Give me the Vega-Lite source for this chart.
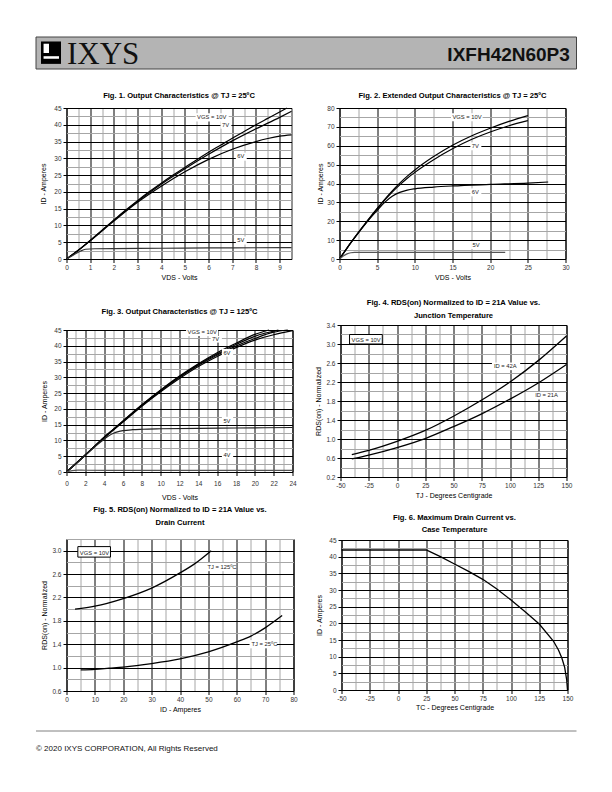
{
"$schema": "https://vega.github.io/schema/vega-lite/v6.json",
"background": "white",
"padding": {"left": 35.5, "top": 36, "right": 5, "bottom": 5},
"config": {
  "font": "Liberation Sans",
  "view": {"stroke": "#000000", "strokeWidth": 1},
  "axis": {"grid": true, "domain": false, "tickSize": 3.5, "tickWidth": 1, "labelPadding": 2, "labelFont": "Liberation Sans", "labelFontSize": 6.5, "labelColor": "#333333", "titleFont": "Liberation Sans", "titleFontSize": 7, "titleFontWeight": "normal", "titleColor": "#000000", "gridWidth": 1, "labelOverlap": false, "labelBound": false, "labelFlush": false, "titleBaseline": "middle"},
  "title": {"font": "Liberation Sans", "fontSize": 7.6, "fontWeight": "bold", "color": "#000000", "anchor": "middle", "frame": "group", "baseline": "bottom"},
  "text": {"font": "Liberation Sans"}
},
"columns": 1,
"align": "none",
"spacing": 1,
"resolve": {"scale": {"color": "independent", "stroke": "independent"}},
"concat": [
  {
    "width": 510, "height": 32,
    "view": {"stroke": null},
    "layer": [
      {"data": {"values": [
        {"p": "g", "x1": -5.98, "x2": 100, "y1": 0, "y2": 100},
        {"p": "a", "x1": -5.0, "x2": -1.08, "y1": 14, "y2": 84},
        {"p": "b", "x1": -4.5, "x2": -3.43, "y1": 21, "y2": 50},
        {"p": "b", "x1": -4.5, "x2": -1.47, "y1": 60, "y2": 68}
      ]},
       "mark": {"type": "rect"},
       "encoding": {
         "x": {"field": "x1", "type": "quantitative", "scale": {"domain": [0, 100], "nice": false, "zero": false}, "axis": null},
         "x2": {"field": "x2"},
         "y": {"field": "y1", "type": "quantitative", "scale": {"domain": [0, 100], "nice": false, "reverse": true}, "axis": null},
         "y2": {"field": "y2"},
         "color": {"field": "p", "type": "nominal", "scale": {"domain": ["g", "a", "b"], "range": ["#b4b4b4", "#000000", "#ffffff"]}, "legend": null},
         "stroke": {"field": "p", "type": "nominal", "scale": {"domain": ["g", "a", "b"], "range": ["#444444", "transparent", "transparent"]}, "legend": null}
       }},
      {"data": {"values": [{"t": "IXYS", "x": 0.1, "y": 84}]},
       "mark": {"type": "text", "font": "Liberation Serif", "fontSize": 31, "align": "left", "baseline": "alphabetic", "color": "#111111"},
       "encoding": {
         "x": {"field": "x", "type": "quantitative", "scale": {"domain": [0, 100], "nice": false, "zero": false}, "axis": null},
         "y": {"field": "y", "type": "quantitative", "scale": {"domain": [0, 100], "nice": false, "reverse": true}, "axis": null},
         "text": {"field": "t"}
       }},
      {"data": {"values": [{"t": "IXFH42N60P3", "x": 98.7, "y": 75}]},
       "mark": {"type": "text", "font": "Liberation Sans", "fontSize": 19, "fontWeight": "bold", "align": "right", "baseline": "alphabetic", "color": "#111111"},
       "encoding": {
         "x": {"field": "x", "type": "quantitative", "scale": {"domain": [0, 100], "nice": false, "zero": false}, "axis": null},
         "y": {"field": "y", "type": "quantitative", "scale": {"domain": [0, 100], "nice": false, "reverse": true}, "axis": null},
         "text": {"field": "t"}
       }}
    ]
  },
  {
    "width": 510, "height": 19, "view": {"stroke": null},
    "data": {"values": [{"a": 0, "b": 1}]},
    "mark": {"type": "rect", "opacity": 0},
    "encoding": {
      "x": {"field": "a", "type": "quantitative", "scale": {"domain": [0, 1]}, "axis": null},
      "x2": {"field": "b"},
      "y": {"field": "a", "type": "quantitative", "scale": {"domain": [0, 1]}, "axis": null},
      "y2": {"field": "b"}
    }
  },
  {
    "resolve": {"scale": {"color": "independent", "stroke": "independent"}},
    "hconcat": [
      {
        "width": 225, "height": 151,
        "title": {"text": "Fig. 1. Output Characteristics @ TJ = 25ºC", "offset": 5},
        "encoding": {
          "x": {"field": "x", "type": "quantitative", "scale": {"domain": [0, 9.5], "nice": false, "zero": false},
                "axis": {"title": "VDS - Volts", "values": [0,0.5,1,1.5,2,2.5,3,3.5,4,4.5,5,5.5,6,6.5,7,7.5,8,8.5,9,9.5],
                         "labelExpr": "datum.value % 1 === 0 ? '' + datum.value : ''",
                         "gridColor": {"condition": {"test": "datum.value % 1 === 0", "value": "#000000"}, "value": "#a6a6a6"},
                         "tickColor": {"condition": {"test": "datum.value % 1 === 0", "value": "#000000"}, "value": "transparent"},
                         "titleY": 18}},
          "y": {"field": "y", "type": "quantitative", "scale": {"domain": [0, 45], "nice": false},
                "axis": {"title": "ID - Amperes", "values": [0,2.5,5,7.5,10,12.5,15,17.5,20,22.5,25,27.5,30,32.5,35,37.5,40,42.5,45],
                         "labelExpr": "datum.value % 5 === 0 ? '' + datum.value : ''",
                         "gridColor": {"condition": {"test": "datum.value % 5 === 0", "value": "#000000"}, "value": "#a6a6a6"},
                         "tickColor": {"condition": {"test": "datum.value % 5 === 0", "value": "#000000"}, "value": "transparent"},
                         "titleX": -23.5}}
        },
        "layer": [
          {"data": {"values": [
            {"s":"10V","x":0,"y":0},{"s":"10V","x":0.5,"y":2.6},{"s":"10V","x":1,"y":5.5},{"s":"10V","x":1.5,"y":8.6},{"s":"10V","x":2,"y":11.6},{"s":"10V","x":2.5,"y":14.6},{"s":"10V","x":3,"y":17.4},{"s":"10V","x":3.5,"y":20.1},{"s":"10V","x":4,"y":22.6},{"s":"10V","x":4.5,"y":25},{"s":"10V","x":5,"y":27.3},{"s":"10V","x":5.5,"y":29.6},{"s":"10V","x":6,"y":31.8},{"s":"10V","x":6.5,"y":33.9},{"s":"10V","x":7,"y":36},{"s":"10V","x":7.5,"y":38},{"s":"10V","x":8,"y":40},{"s":"10V","x":8.5,"y":41.9},{"s":"10V","x":9,"y":43.8},{"s":"10V","x":9.3,"y":45},
            {"s":"7V","x":0,"y":0},{"s":"7V","x":0.5,"y":2.6},{"s":"7V","x":1,"y":5.5},{"s":"7V","x":2,"y":11.5},{"s":"7V","x":3,"y":17.2},{"s":"7V","x":4,"y":22.3},{"s":"7V","x":5,"y":26.9},{"s":"7V","x":6,"y":31.2},{"s":"7V","x":7,"y":35.2},{"s":"7V","x":8,"y":38.8},{"s":"7V","x":9,"y":42.2},{"s":"7V","x":9.5,"y":44},
            {"s":"6V","x":0,"y":0},{"s":"6V","x":0.5,"y":2.6},{"s":"6V","x":1,"y":5.4},{"s":"6V","x":2,"y":11.3},{"s":"6V","x":3,"y":16.9},{"s":"6V","x":4,"y":21.7},{"s":"6V","x":5,"y":26},{"s":"6V","x":6,"y":29.7},{"s":"6V","x":7,"y":32.7},{"s":"6V","x":8,"y":35},{"s":"6V","x":8.5,"y":35.9},{"s":"6V","x":9,"y":36.6},{"s":"6V","x":9.5,"y":37},
            {"s":"5V","x":0,"y":0},{"s":"5V","x":0.3,"y":1.2},{"s":"5V","x":0.6,"y":2.4},{"s":"5V","x":0.8,"y":2.9},{"s":"5V","x":1.2,"y":3.05},{"s":"5V","x":2,"y":3.1},{"s":"5V","x":4,"y":3.2},{"s":"5V","x":6,"y":3.3},{"s":"5V","x":8,"y":3.35},{"s":"5V","x":9.5,"y":3.4}
          ]},
           "mark": {"type": "line", "interpolate": "monotone", "strokeWidth": 1.2},
           "encoding": {
             "color": {"field": "s", "type": "nominal", "scale": {"domain": ["10V","8V","7V","6V","5V","4V"], "range": ["#000000","#000000","#000000","#000000","#333333","#555555"]}, "legend": null}
           }},
          {"data": {"values": [
            {"t":"VGS = 10V","x":5.45,"x2":6.85,"y":41,"y2":43.4},
            {"t":"7V","x":6.5,"x2":6.96,"y":38.8,"y2":41.2},
            {"t":"6V","x":7.15,"x2":7.61,"y":29.3,"y2":31.7},
            {"t":"5V","x":7.15,"x2":7.61,"y":4.3,"y2":6.7}
          ]},
           "layer": [
             {"mark": {"type": "rect", "fill": "#ffffff"}, "encoding": {"x2": {"field": "x2"}, "y2": {"field": "y2"}}},
             {"mark": {"type": "text", "fontSize": 5.8, "color": "#222222", "align": "left", "baseline": "bottom", "dx": 1.5, "dy": -1.2}, "encoding": {"text": {"field": "t"}}}
           ]}
        ]
      },
      {
        "width": 226, "height": 151,
        "title": {"text": "Fig. 2. Extended Output Characteristics @ TJ = 25ºC", "offset": 5.5},
        "encoding": {
          "x": {"field": "x", "type": "quantitative", "scale": {"domain": [0, 30], "nice": false, "zero": false},
                "axis": {"title": "VDS - Volts", "values": [0,2.5,5,7.5,10,12.5,15,17.5,20,22.5,25,27.5,30],
                         "labelExpr": "datum.value % 5 === 0 ? '' + datum.value : ''",
                         "gridColor": {"condition": {"test": "datum.value % 5 === 0", "value": "#000000"}, "value": "#a6a6a6"},
                         "tickColor": {"condition": {"test": "datum.value % 5 === 0", "value": "#000000"}, "value": "transparent"},
                         "titleY": 18}},
          "y": {"field": "y", "type": "quantitative", "scale": {"domain": [0, 80], "nice": false},
                "axis": {"title": "ID - Amperes", "values": [0,5,10,15,20,25,30,35,40,45,50,55,60,65,70,75,80],
                         "labelExpr": "datum.value % 10 === 0 ? '' + datum.value : ''",
                         "gridColor": {"condition": {"test": "datum.value % 10 === 0", "value": "#000000"}, "value": "#a6a6a6"},
                         "tickColor": {"condition": {"test": "datum.value % 10 === 0", "value": "#000000"}, "value": "transparent"},
                         "titleX": -19}}
        },
        "layer": [
          {"data": {"values": [
            {"s":"10V","x":0,"y":0},{"s":"10V","x":1,"y":5.8},{"s":"10V","x":2,"y":11.3},{"s":"10V","x":3,"y":16.6},{"s":"10V","x":4,"y":21.8},{"s":"10V","x":5,"y":26.8},{"s":"10V","x":6,"y":31.6},{"s":"10V","x":7,"y":36.1},{"s":"10V","x":8,"y":40.2},{"s":"10V","x":9,"y":43.9},{"s":"10V","x":10,"y":47.2},{"s":"10V","x":12.5,"y":54.3},{"s":"10V","x":15,"y":60.3},{"s":"10V","x":17.5,"y":65.2},{"s":"10V","x":20,"y":69.3},{"s":"10V","x":22.5,"y":72.9},{"s":"10V","x":25,"y":76},
            {"s":"7V","x":0,"y":0},{"s":"7V","x":1,"y":5.8},{"s":"7V","x":2,"y":11.3},{"s":"7V","x":3,"y":16.6},{"s":"7V","x":4,"y":21.7},{"s":"7V","x":5,"y":26.6},{"s":"7V","x":6,"y":31.2},{"s":"7V","x":7,"y":35.5},{"s":"7V","x":8,"y":39.3},{"s":"7V","x":9,"y":42.8},{"s":"7V","x":10,"y":45.9},{"s":"7V","x":12.5,"y":52.6},{"s":"7V","x":15,"y":58.4},{"s":"7V","x":17.5,"y":63.3},{"s":"7V","x":20,"y":67.3},{"s":"7V","x":22.5,"y":70.6},{"s":"7V","x":25,"y":73.3},
            {"s":"6V","x":0,"y":0},{"s":"6V","x":1,"y":5.8},{"s":"6V","x":2,"y":11.2},{"s":"6V","x":3,"y":16.4},{"s":"6V","x":4,"y":21.3},{"s":"6V","x":5,"y":25.8},{"s":"6V","x":6,"y":30},{"s":"6V","x":7,"y":33.2},{"s":"6V","x":8,"y":35.3},{"s":"6V","x":9,"y":36.5},{"s":"6V","x":10,"y":37.2},{"s":"6V","x":12.5,"y":38.1},{"s":"6V","x":15,"y":38.7},{"s":"6V","x":20,"y":39.5},{"s":"6V","x":25,"y":40.2},{"s":"6V","x":27.7,"y":40.8},
            {"s":"5V","x":0,"y":0},{"s":"5V","x":0.5,"y":1.6},{"s":"5V","x":1,"y":2.7},{"s":"5V","x":1.5,"y":3.3},{"s":"5V","x":2,"y":3.5},{"s":"5V","x":5,"y":3.5},{"s":"5V","x":10,"y":3.5},{"s":"5V","x":15,"y":3.5},{"s":"5V","x":22,"y":3.5}
          ]},
           "mark": {"type": "line", "interpolate": "monotone", "strokeWidth": 1.2},
           "encoding": {
             "color": {"field": "s", "type": "nominal", "scale": {"domain": ["10V","8V","7V","6V","5V","4V"], "range": ["#000000","#000000","#000000","#000000","#555555","#555555"]}, "legend": null}
           }},
          {"data": {"values": [
            {"t":"VGS = 10V","x":14.8,"x2":19.0,"y":73,"y2":77.2},
            {"t":"7V","x":17.37,"x2":18.83,"y":57.6,"y2":61.8},
            {"t":"6V","x":17.37,"x2":18.83,"y":33.2,"y2":37.4},
            {"t":"5V","x":17.47,"x2":18.93,"y":5.3,"y2":9.5}
          ]},
           "layer": [
             {"mark": {"type": "rect", "fill": "#ffffff"}, "encoding": {"x2": {"field": "x2"}, "y2": {"field": "y2"}}},
             {"mark": {"type": "text", "fontSize": 5.8, "color": "#222222", "align": "left", "baseline": "bottom", "dx": 1.5, "dy": -1.2}, "encoding": {"text": {"field": "t"}}}
           ]}
        ]
      }
    ],
    "spacing": 48, "bounds": "flush"
  },
  {
    "width": 510, "height": 14.5, "view": {"stroke": null},
    "data": {"values": [{"a": 0, "b": 1}]},
    "mark": {"type": "rect", "opacity": 0},
    "encoding": {
      "x": {"field": "a", "type": "quantitative", "scale": {"domain": [0, 1]}, "axis": null},
      "x2": {"field": "b"},
      "y": {"field": "a", "type": "quantitative", "scale": {"domain": [0, 1]}, "axis": null},
      "y2": {"field": "b"}
    }
  },
  {
    "resolve": {"scale": {"color": "independent", "stroke": "independent"}},
    "hconcat": [
      {
        "width": 226, "height": 142,
        "title": {"text": "Fig. 3. Output Characteristics @ TJ = 125ºC", "offset": 11.5},
        "encoding": {
          "x": {"field": "x", "type": "quantitative", "scale": {"domain": [0, 24], "nice": false, "zero": false},
                "axis": {"title": "VDS - Volts", "values": [0,1,2,3,4,5,6,7,8,9,10,11,12,13,14,15,16,17,18,19,20,21,22,23,24],
                         "labelExpr": "datum.value % 2 === 0 ? '' + datum.value : ''",
                         "gridColor": {"condition": {"test": "datum.value % 2 === 0", "value": "#000000"}, "value": "#a6a6a6"},
                         "tickColor": {"condition": {"test": "datum.value % 2 === 0", "value": "#000000"}, "value": "transparent"},
                         "labelPadding": 4.5, "titleY": 25}},
          "y": {"field": "y", "type": "quantitative", "scale": {"domain": [0, 45], "nice": false},
                "axis": {"title": "ID - Amperes", "values": [0,2.5,5,7.5,10,12.5,15,17.5,20,22.5,25,27.5,30,32.5,35,37.5,40,42.5,45],
                         "labelExpr": "datum.value % 5 === 0 ? '' + datum.value : ''",
                         "gridColor": {"condition": {"test": "datum.value % 5 === 0", "value": "#000000"}, "value": "#a6a6a6"},
                         "tickColor": {"condition": {"test": "datum.value % 5 === 0", "value": "#000000"}, "value": "transparent"},
                         "titleX": -22.5}}
        },
        "layer": [
          {"data": {"values": [
            {"s":"10V","x":0,"y":0},{"s":"10V","x":1,"y":2.6},{"s":"10V","x":2,"y":5.4},{"s":"10V","x":3,"y":8.2},{"s":"10V","x":4,"y":11},{"s":"10V","x":5,"y":13.6},{"s":"10V","x":6,"y":16.2},{"s":"10V","x":8,"y":21.3},{"s":"10V","x":10,"y":26},{"s":"10V","x":12,"y":30.4},{"s":"10V","x":14,"y":34.3},{"s":"10V","x":16,"y":37.8},{"s":"10V","x":18,"y":40.8},{"s":"10V","x":20,"y":43.6},{"s":"10V","x":21.5,"y":45},
            {"s":"8V","x":0,"y":0},{"s":"8V","x":2,"y":5.4},{"s":"8V","x":4,"y":11},{"s":"8V","x":6,"y":16.1},{"s":"8V","x":8,"y":21.2},{"s":"8V","x":10,"y":25.9},{"s":"8V","x":12,"y":30.2},{"s":"8V","x":14,"y":34.1},{"s":"8V","x":16,"y":37.4},{"s":"8V","x":18,"y":40.4},{"s":"8V","x":20,"y":43},{"s":"8V","x":22.5,"y":45},
            {"s":"7V","x":0,"y":0},{"s":"7V","x":2,"y":5.4},{"s":"7V","x":4,"y":10.9},{"s":"7V","x":6,"y":16},{"s":"7V","x":8,"y":21.1},{"s":"7V","x":10,"y":25.7},{"s":"7V","x":12,"y":30},{"s":"7V","x":14,"y":33.8},{"s":"7V","x":16,"y":37.1},{"s":"7V","x":18,"y":39.9},{"s":"7V","x":20,"y":42.3},{"s":"7V","x":22,"y":44.3},{"s":"7V","x":23.5,"y":45},
            {"s":"6V","x":0,"y":0},{"s":"6V","x":2,"y":5.4},{"s":"6V","x":4,"y":10.8},{"s":"6V","x":6,"y":15.8},{"s":"6V","x":8,"y":20.8},{"s":"6V","x":10,"y":25.4},{"s":"6V","x":12,"y":29.6},{"s":"6V","x":14,"y":33.4},{"s":"6V","x":16,"y":36.6},{"s":"6V","x":18,"y":39.4},{"s":"6V","x":20,"y":41.8},{"s":"6V","x":22,"y":43.5},{"s":"6V","x":24,"y":44.8},
            {"s":"5V","x":0,"y":0},{"s":"5V","x":1,"y":2.6},{"s":"5V","x":2,"y":5.3},{"s":"5V","x":3,"y":8},{"s":"5V","x":4,"y":10.4},{"s":"5V","x":4.5,"y":11.5},{"s":"5V","x":5,"y":12.3},{"s":"5V","x":5.5,"y":12.8},{"s":"5V","x":6,"y":13.1},{"s":"5V","x":7,"y":13.4},{"s":"5V","x":8,"y":13.55},{"s":"5V","x":10,"y":13.7},{"s":"5V","x":14,"y":13.85},{"s":"5V","x":18,"y":13.95},{"s":"5V","x":24,"y":14.1},
            {"s":"4V","x":0,"y":0},{"s":"4V","x":0.6,"y":0.45},{"s":"4V","x":1.2,"y":0.6},{"s":"4V","x":2,"y":0.55},{"s":"4V","x":6,"y":0.5},{"s":"4V","x":24,"y":0.5}
          ]},
           "mark": {"type": "line", "interpolate": "monotone", "strokeWidth": 1.2},
           "encoding": {
             "color": {"field": "s", "type": "nominal", "scale": {"domain": ["10V","8V","7V","6V","5V","4V"], "range": ["#000000","#000000","#000000","#000000","#222222","#555555"]}, "legend": null}
           }},
          {"data": {"values": [
            {"t":"VGS = 10V","x":12.7,"x2":16.1,"y":43.1,"y2":45},
            {"t":"7V","x":15.3,"x2":16.5,"y":41,"y2":43.1},
            {"t":"6V","x":16.5,"x2":17.7,"y":36.6,"y2":39},
            {"t":"5V","x":16.5,"x2":17.7,"y":15.1,"y2":17.5},
            {"t":"4V","x":16.5,"x2":17.7,"y":4.3,"y2":6.7}
          ]},
           "layer": [
             {"mark": {"type": "rect", "fill": "#ffffff"}, "encoding": {"x2": {"field": "x2"}, "y2": {"field": "y2"}}},
             {"mark": {"type": "text", "fontSize": 5.8, "color": "#222222", "align": "left", "baseline": "bottom", "dx": 1.5, "dy": -0.6}, "encoding": {"text": {"field": "t"}}}
           ]}
        ]
      },
      {
        "width": 226, "height": 152,
        "title": {"text": ["Fig. 4. RDS(on) Normalized to ID = 21A Value vs.", "Junction Temperature"], "lineHeight": 13, "offset": 2.5},
        "encoding": {
          "x": {"field": "x", "type": "quantitative", "scale": {"domain": [-50, 150], "nice": false, "zero": false},
                "axis": {"title": "TJ - Degrees Centigrade", "values": [-50,-37.5,-25,-12.5,0,12.5,25,37.5,50,62.5,75,87.5,100,112.5,125,137.5,150],
                         "labelExpr": "datum.value % 25 === 0 ? '' + datum.value : ''",
                         "gridColor": {"condition": {"test": "datum.value % 25 === 0", "value": "#000000"}, "value": "#a6a6a6"},
                         "tickColor": {"condition": {"test": "datum.value % 25 === 0", "value": "#000000"}, "value": "transparent"},
                         "titleY": 18}},
          "y": {"field": "y", "type": "quantitative", "scale": {"domain": [0.2, 3.4], "nice": false, "zero": false},
                "axis": {"title": "RDS(on) - Normalized", "format": ".1f", "values": [0.2,0.4,0.6,0.8,1,1.2,1.4,1.6,1.8,2,2.2,2.4,2.6,2.8,3,3.2,3.4],
                         "labelExpr": "round(datum.value * 10) % 4 === 2 ? datum.label : ''",
                         "gridColor": {"condition": {"test": "round(datum.value * 10) % 4 === 2", "value": "#000000"}, "value": "#a6a6a6"},
                         "tickColor": {"condition": {"test": "round(datum.value * 10) % 4 === 2", "value": "#000000"}, "value": "transparent"},
                         "titleX": -22}}
        },
        "layer": [
          {"data": {"values": [
            {"s":"42A","x":-40,"y":0.67},{"s":"42A","x":-25,"y":0.76},{"s":"42A","x":0,"y":0.95},{"s":"42A","x":25,"y":1.18},{"s":"42A","x":50,"y":1.48},{"s":"42A","x":75,"y":1.82},{"s":"42A","x":100,"y":2.2},{"s":"42A","x":125,"y":2.65},{"s":"42A","x":150,"y":3.17},
            {"s":"21A","x":-40,"y":0.58},{"s":"21A","x":-25,"y":0.66},{"s":"21A","x":0,"y":0.82},{"s":"21A","x":25,"y":1.01},{"s":"21A","x":50,"y":1.26},{"s":"21A","x":75,"y":1.53},{"s":"21A","x":100,"y":1.84},{"s":"21A","x":125,"y":2.18},{"s":"21A","x":150,"y":2.57}
          ]},
           "mark": {"type": "line", "interpolate": "monotone", "strokeWidth": 1.3, "color": "#000000"},
           "encoding": {"detail": {"field": "s"}}},
          {"data": {"values": [
            {"t":"VGS = 10V","x":-42,"x2":-13,"y":3.0,"y2":3.2,"b":"box"},
            {"t":"ID = 42A","x":84,"x2":109,"y":2.45,"y2":2.61,"b":"plain"},
            {"t":"ID = 21A","x":120.5,"x2":145.5,"y":1.83,"y2":1.99,"b":"plain"}
          ]},
           "layer": [
             {"mark": {"type": "rect", "fill": "#ffffff", "strokeWidth": 1},
              "encoding": {"x2": {"field": "x2"}, "y2": {"field": "y2"},
                           "stroke": {"field": "b", "type": "nominal", "scale": {"domain": ["box", "plain"], "range": ["#000000", "transparent"]}, "legend": null}}},
             {"mark": {"type": "text", "fontSize": 5.8, "color": "#222222", "align": "left", "baseline": "bottom", "dx": 2, "dy": -1.5}, "encoding": {"text": {"field": "t"}}}
           ]}
        ]
      }
    ],
    "spacing": 48, "bounds": "flush", "center": true
  },
  {
    "width": 510, "height": 1.8, "view": {"stroke": null},
    "data": {"values": [{"a": 0, "b": 1}]},
    "mark": {"type": "rect", "opacity": 0},
    "encoding": {
      "x": {"field": "a", "type": "quantitative", "scale": {"domain": [0, 1]}, "axis": null},
      "x2": {"field": "b"},
      "y": {"field": "a", "type": "quantitative", "scale": {"domain": [0, 1]}, "axis": null},
      "y2": {"field": "b"}
    }
  },
  {
    "resolve": {"scale": {"color": "independent", "stroke": "independent"}},
    "hconcat": [
      {
        "width": 227, "height": 152,
        "title": {"text": ["Fig. 5. RDS(on) Normalized to ID = 21A Value vs.", "Drain Current"], "lineHeight": 13, "offset": 9.2},
        "encoding": {
          "x": {"field": "x", "type": "quantitative", "scale": {"domain": [0, 80], "nice": false, "zero": false},
                "axis": {"title": "ID - Amperes", "values": [0,5,10,15,20,25,30,35,40,45,50,55,60,65,70,75,80],
                         "labelExpr": "datum.value % 10 === 0 ? '' + datum.value : ''",
                         "gridColor": {"condition": {"test": "datum.value % 10 === 0", "value": "#000000"}, "value": "#a6a6a6"},
                         "tickColor": {"condition": {"test": "datum.value % 10 === 0", "value": "#000000"}, "value": "transparent"},
                         "titleY": 18}},
          "y": {"field": "y", "type": "quantitative", "scale": {"domain": [0.6, 3.2], "nice": false, "zero": false},
                "axis": {"title": "RDS(on) - Normalized", "format": ".1f", "values": [0.6,0.8,1,1.2,1.4,1.6,1.8,2,2.2,2.4,2.6,2.8,3,3.2],
                         "labelExpr": "round(datum.value * 10) % 4 === 2 ? datum.label : ''",
                         "gridColor": {"condition": {"test": "round(datum.value * 10) % 4 === 2", "value": "#000000"}, "value": "#a6a6a6"},
                         "tickColor": {"condition": {"test": "round(datum.value * 10) % 4 === 2", "value": "#000000"}, "value": "transparent"},
                         "titleX": -22.5}}
        },
        "layer": [
          {"data": {"values": [
            {"s":"125C","x":3,"y":2.0},{"s":"125C","x":10,"y":2.05},{"s":"125C","x":20,"y":2.18},{"s":"125C","x":30,"y":2.36},{"s":"125C","x":40,"y":2.62},{"s":"125C","x":45,"y":2.77},{"s":"125C","x":51,"y":3.0},
            {"s":"25C","x":5,"y":0.96},{"s":"25C","x":10,"y":0.97},{"s":"25C","x":15,"y":0.99},{"s":"25C","x":20,"y":1.01},{"s":"25C","x":30,"y":1.07},{"s":"25C","x":40,"y":1.15},{"s":"25C","x":50,"y":1.27},{"s":"25C","x":60,"y":1.44},{"s":"25C","x":65,"y":1.54},{"s":"25C","x":70,"y":1.68},{"s":"25C","x":76,"y":1.89}
          ]},
           "mark": {"type": "line", "interpolate": "monotone", "strokeWidth": 1.3, "color": "#000000"},
           "encoding": {"detail": {"field": "s"}}},
          {"data": {"values": [
            {"t":"VGS = 10V","x":4,"x2":15.5,"y":2.89,"y2":3.07,"b":"box"},
            {"t":"TJ = 125ºC","x":49,"x2":59.8,"y":2.65,"y2":2.79,"b":"plain"},
            {"t":"TJ = 25ºC","x":64.5,"x2":74.1,"y":1.33,"y2":1.47,"b":"plain"}
          ]},
           "layer": [
             {"mark": {"type": "rect", "fill": "#ffffff", "strokeWidth": 1},
              "encoding": {"x2": {"field": "x2"}, "y2": {"field": "y2"},
                           "stroke": {"field": "b", "type": "nominal", "scale": {"domain": ["box", "plain"], "range": ["#000000", "transparent"]}, "legend": null}}},
             {"mark": {"type": "text", "fontSize": 5.8, "color": "#222222", "align": "left", "baseline": "bottom", "dx": 2, "dy": -1.5}, "encoding": {"text": {"field": "t"}}}
           ]}
        ]
      },
      {
        "width": 226, "height": 150,
        "title": {"text": ["Fig. 6. Maximum Drain Current vs.", "Case Temperature"], "lineHeight": 12, "offset": 3.5},
        "data": {"values": [
          {"x":-50,"y":42},{"x":25,"y":42},{"x":37.5,"y":40},{"x":50,"y":37.8},{"x":62.5,"y":35.6},{"x":75,"y":33.2},{"x":87.5,"y":30.3},{"x":100,"y":27},{"x":112.5,"y":23.5},{"x":125,"y":19.8},{"x":137.5,"y":14.7},{"x":142,"y":12},{"x":145,"y":9.6},{"x":147.5,"y":6.8},{"x":149.3,"y":3},{"x":150,"y":0}
        ]},
        "mark": {"type": "line", "strokeWidth": 1.3, "color": "#000000"},
        "encoding": {
          "x": {"field": "x", "type": "quantitative", "scale": {"domain": [-50, 150], "nice": false, "zero": false},
                "axis": {"title": "TC - Degrees Centigrade", "values": [-50,-37.5,-25,-12.5,0,12.5,25,37.5,50,62.5,75,87.5,100,112.5,125,137.5,150],
                         "labelExpr": "datum.value % 25 === 0 ? '' + datum.value : ''",
                         "gridColor": {"condition": {"test": "datum.value % 25 === 0", "value": "#000000"}, "value": "#a6a6a6"},
                         "tickColor": {"condition": {"test": "datum.value % 25 === 0", "value": "#000000"}, "value": "transparent"},
                         "titleY": 17}},
          "y": {"field": "y", "type": "quantitative", "scale": {"domain": [0, 45], "nice": false},
                "axis": {"title": "ID - Amperes", "values": [0,2.5,5,7.5,10,12.5,15,17.5,20,22.5,25,27.5,30,32.5,35,37.5,40,42.5,45],
                         "labelExpr": "datum.value % 5 === 0 ? '' + datum.value : ''",
                         "gridColor": {"condition": {"test": "datum.value % 5 === 0", "value": "#000000"}, "value": "#a6a6a6"},
                         "tickColor": {"condition": {"test": "datum.value % 5 === 0", "value": "#000000"}, "value": "transparent"},
                         "titleX": -22}}
        }
      }
    ],
    "spacing": 48, "bounds": "flush", "center": true
  },
  {
    "width": 510, "height": 15, "view": {"stroke": null},
    "data": {"values": [{"a": 0, "b": 1}]},
    "mark": {"type": "rect", "opacity": 0},
    "encoding": {
      "x": {"field": "a", "type": "quantitative", "scale": {"domain": [0, 1]}, "axis": null},
      "x2": {"field": "b"},
      "y": {"field": "a", "type": "quantitative", "scale": {"domain": [0, 1]}, "axis": null},
      "y2": {"field": "b"}
    }
  },
  {
    "width": 510, "height": 26, "view": {"stroke": null},
    "layer": [
      {"data": {"values": [{"x": -5.98, "x2": 100, "y": 0}]},
       "mark": {"type": "rule", "color": "#808080", "strokeWidth": 1},
       "encoding": {
         "x": {"field": "x", "type": "quantitative", "scale": {"domain": [0, 100], "nice": false, "zero": false}, "axis": null},
         "x2": {"field": "x2"},
         "y": {"field": "y", "type": "quantitative", "scale": {"domain": [0, 100], "nice": false, "reverse": true}, "axis": null}
       }},
      {"data": {"values": [{"t": "© 2020 IXYS CORPORATION,  All Rights Reserved", "x": -5.98, "y": 69}]},
       "mark": {"type": "text", "fontSize": 8, "align": "left", "baseline": "middle", "color": "#111111"},
       "encoding": {
         "x": {"field": "x", "type": "quantitative", "scale": {"domain": [0, 100], "nice": false, "zero": false}, "axis": null},
         "y": {"field": "y", "type": "quantitative", "scale": {"domain": [0, 100], "nice": false, "reverse": true}, "axis": null},
         "text": {"field": "t"}
       }}
    ]
  }
]
}
